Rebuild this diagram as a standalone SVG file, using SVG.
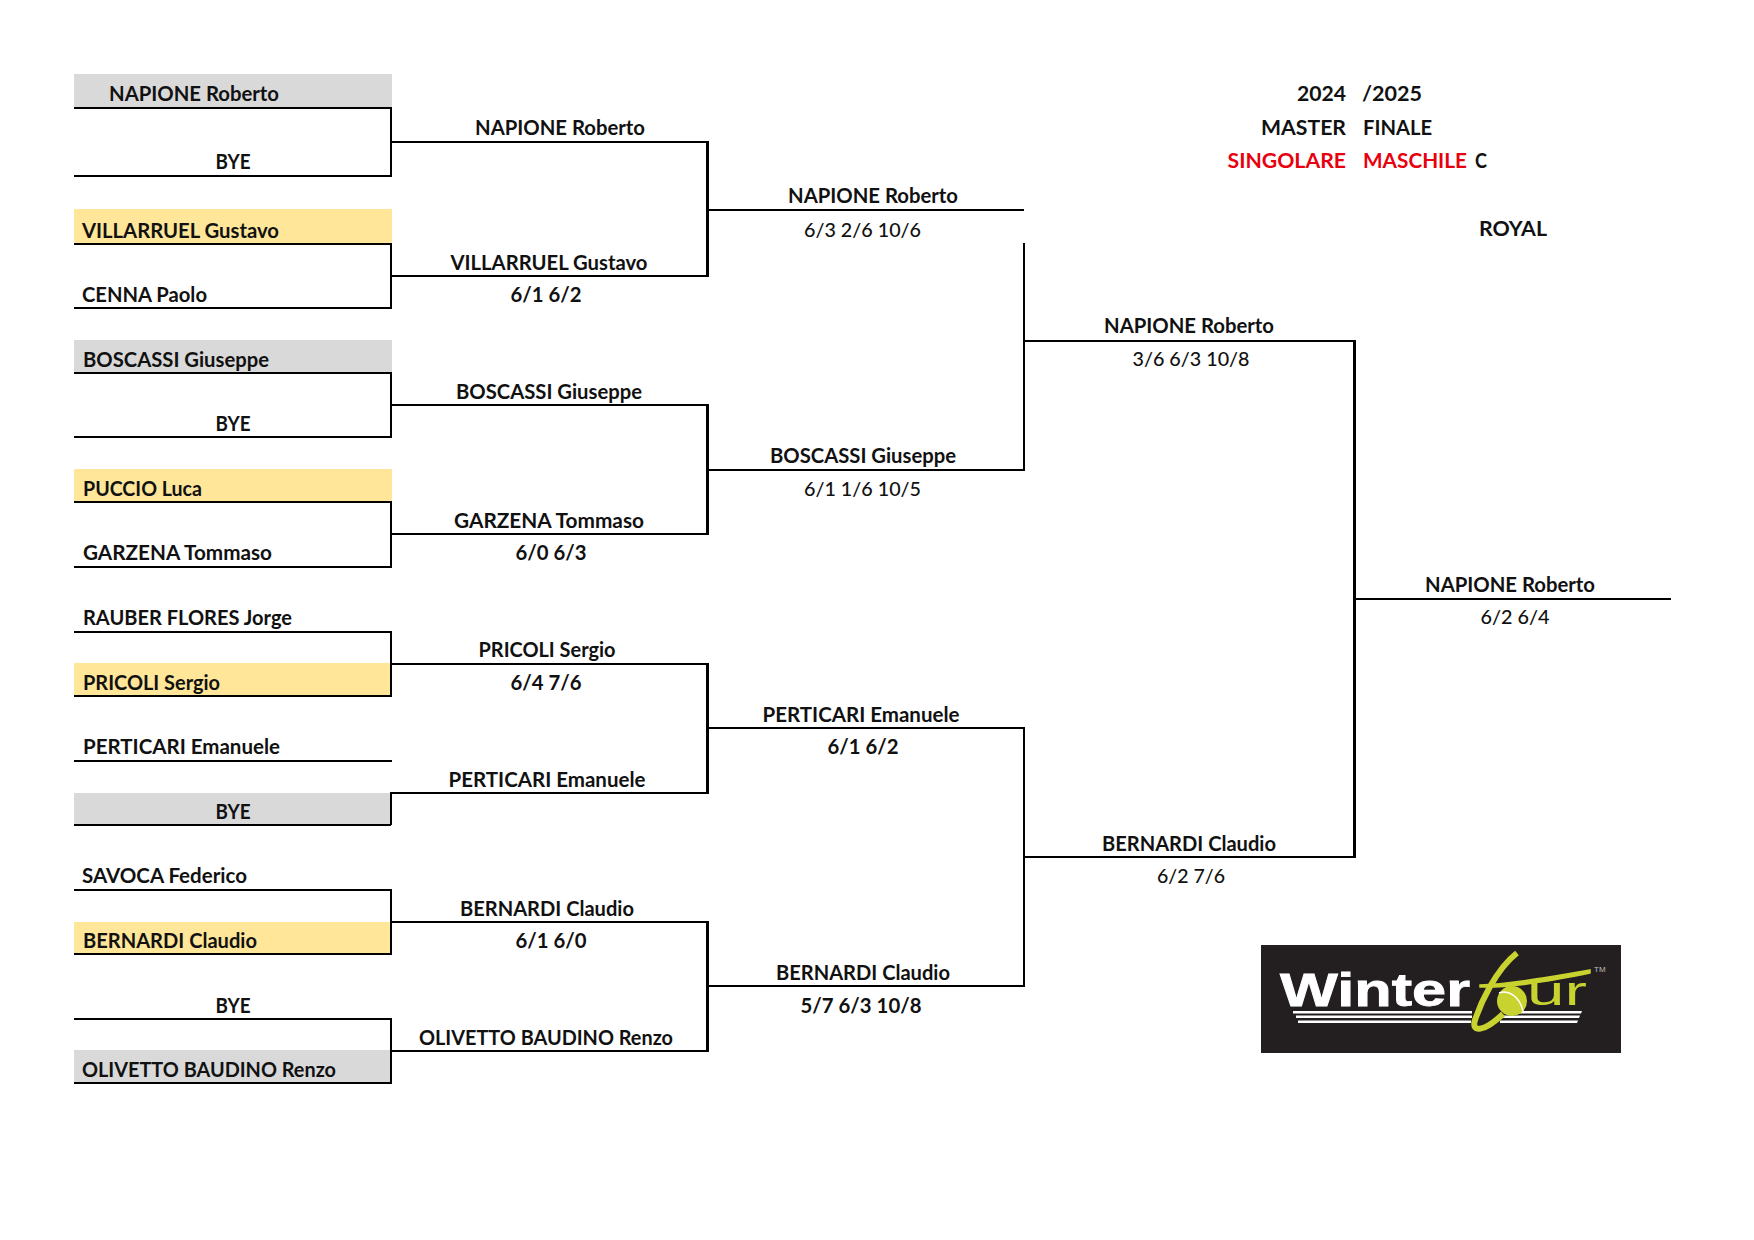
<svg xmlns="http://www.w3.org/2000/svg" width="1754" height="1240" viewBox="0 0 1754 1240">
<style>
text{font-family:Lato,"Liberation Sans",sans-serif;font-size:20px;font-weight:700;fill:#111}
.s{font-weight:500}.m{text-anchor:middle}.h{font-size:21.500px}.r{fill:#e8000f}
.g{fill:#d9d9d9}.y{fill:#ffe699}
#connectors path{fill:none;stroke:#000;stroke-width:2}
#connectors path.t{stroke-width:3}
.l{font-family:"Liberation Sans",sans-serif}
</style>
<rect width="1754" height="1240" fill="#fff"/>
<g id="fills">
<rect class="g" x="74" y="74" width="318" height="33"/>
<rect class="y" x="74" y="209" width="318" height="34"/>
<rect class="g" x="74" y="340" width="318" height="32"/>
<rect class="y" x="74" y="469" width="318" height="33"/>
<rect class="y" x="74" y="663" width="318" height="33"/>
<rect class="g" x="74" y="793" width="318" height="32"/>
<rect class="y" x="74" y="922" width="318" height="32"/>
<rect class="g" x="74" y="1050" width="318" height="33"/>
</g>
<g id="connectors">
<path d="M74 108H391V176H74M391 142H708"/>
<path d="M74 244H391V308H74M391 276H708"/>
<path d="M74 373H391V437H74M391 405H708"/>
<path d="M74 502H391V567H74M391 534H708"/>
<path d="M74 632H391V696H74M391 664H708"/>
<path d="M74 761H392M391 825H74M391 825V793H708"/>
<path d="M74 890H391V954H74M391 922H708"/>
<path d="M74 1019H391V1083H74M391 1051H708"/>
<path class="t" d="M707.500 141V277M707.500 404V535M707.500 663V794M707.500 921V1052"/>
<path d="M708 210H1024M708 470H1024M708 728H1024M708 986H1024"/>
<path d="M1024 243V471M1024 341H1354"/>
<path d="M1024 727V987M1024 857H1354"/>
<path class="t" d="M1354.500 340V858"/>
<path d="M1354 599H1671"/>
</g>
<g id="r1">
<text x="109" y="101" textLength="170" lengthAdjust="spacingAndGlyphs">NAPIONE Roberto</text><text x="233" y="169" class="m" textLength="35" lengthAdjust="spacingAndGlyphs">BYE</text>
<text x="82" y="238" textLength="197" lengthAdjust="spacingAndGlyphs">VILLARRUEL Gustavo</text><text x="82" y="302" textLength="125" lengthAdjust="spacingAndGlyphs">CENNA Paolo</text>
<text x="83" y="367" textLength="186" lengthAdjust="spacingAndGlyphs">BOSCASSI Giuseppe</text><text x="233" y="431" class="m" textLength="35" lengthAdjust="spacingAndGlyphs">BYE</text>
<text x="83" y="496" textLength="119" lengthAdjust="spacingAndGlyphs">PUCCIO Luca</text><text x="83" y="560" textLength="189" lengthAdjust="spacingAndGlyphs">GARZENA Tommaso</text>
<text x="83" y="625" textLength="209" lengthAdjust="spacingAndGlyphs">RAUBER FLORES Jorge</text><text x="83" y="690" textLength="137" lengthAdjust="spacingAndGlyphs">PRICOLI Sergio</text>
<text x="83" y="754" textLength="197" lengthAdjust="spacingAndGlyphs">PERTICARI Emanuele</text><text x="233" y="819" class="m" textLength="35" lengthAdjust="spacingAndGlyphs">BYE</text>
<text x="82" y="883" textLength="165" lengthAdjust="spacingAndGlyphs">SAVOCA Federico</text><text x="83" y="948" textLength="174" lengthAdjust="spacingAndGlyphs">BERNARDI Claudio</text>
<text x="233" y="1013" class="m" textLength="35" lengthAdjust="spacingAndGlyphs">BYE</text><text x="82" y="1077" textLength="254" lengthAdjust="spacingAndGlyphs">OLIVETTO BAUDINO Renzo</text>
</g>
<g id="r2">
<text x="560" y="135" class="m" textLength="170" lengthAdjust="spacingAndGlyphs">NAPIONE Roberto</text>
<text x="549" y="270" class="m" textLength="197" lengthAdjust="spacingAndGlyphs">VILLARRUEL Gustavo</text><text x="546" y="302" class="m" textLength="71" lengthAdjust="spacingAndGlyphs">6/1 6/2</text>
<text x="549" y="399" class="m" textLength="186" lengthAdjust="spacingAndGlyphs">BOSCASSI Giuseppe</text>
<text x="549" y="528" class="m" textLength="190" lengthAdjust="spacingAndGlyphs">GARZENA Tommaso</text><text x="551" y="560" class="m" textLength="71" lengthAdjust="spacingAndGlyphs">6/0 6/3</text>
<text x="547" y="657" class="m" textLength="137" lengthAdjust="spacingAndGlyphs">PRICOLI Sergio</text><text x="546" y="690" class="m" textLength="71" lengthAdjust="spacingAndGlyphs">6/4 7/6</text>
<text x="547" y="787" class="m" textLength="197" lengthAdjust="spacingAndGlyphs">PERTICARI Emanuele</text>
<text x="547" y="916" class="m" textLength="174" lengthAdjust="spacingAndGlyphs">BERNARDI Claudio</text><text x="551" y="948" class="m" textLength="71" lengthAdjust="spacingAndGlyphs">6/1 6/0</text>
<text x="546" y="1045" class="m" textLength="254" lengthAdjust="spacingAndGlyphs">OLIVETTO BAUDINO Renzo</text>
</g>
<g id="r3">
<text x="873" y="203" class="m" textLength="170" lengthAdjust="spacingAndGlyphs">NAPIONE Roberto</text><text x="862.500" y="237" class="m s" textLength="117" lengthAdjust="spacingAndGlyphs">6/3 2/6 10/6</text>
<text x="863" y="463" class="m" textLength="186" lengthAdjust="spacingAndGlyphs">BOSCASSI Giuseppe</text><text x="862.500" y="496" class="m s" textLength="117" lengthAdjust="spacingAndGlyphs">6/1 1/6 10/5</text>
<text x="861" y="722" class="m" textLength="197" lengthAdjust="spacingAndGlyphs">PERTICARI Emanuele</text><text x="863" y="754" class="m" textLength="71" lengthAdjust="spacingAndGlyphs">6/1 6/2</text>
<text x="863" y="980" class="m" textLength="174" lengthAdjust="spacingAndGlyphs">BERNARDI Claudio</text><text x="861" y="1013" class="m" textLength="121" lengthAdjust="spacingAndGlyphs">5/7 6/3 10/8</text>
</g>
<g id="r4">
<text x="1189" y="333" class="m" textLength="170" lengthAdjust="spacingAndGlyphs">NAPIONE Roberto</text><text x="1191" y="366" class="m s" textLength="117" lengthAdjust="spacingAndGlyphs">3/6 6/3 10/8</text>
<text x="1189" y="851" class="m" textLength="174" lengthAdjust="spacingAndGlyphs">BERNARDI Claudio</text><text x="1191" y="883" class="m s" textLength="68" lengthAdjust="spacingAndGlyphs">6/2 7/6</text>
</g>
<g id="r5">
<text x="1510" y="592" class="m" textLength="170" lengthAdjust="spacingAndGlyphs">NAPIONE Roberto</text><text x="1515" y="624" class="m s" textLength="69" lengthAdjust="spacingAndGlyphs">6/2 6/4</text>
</g>
<g id="title">
<text x="1297" y="101" class="h" textLength="49" lengthAdjust="spacingAndGlyphs">2024</text><text x="1362" y="101" class="h" textLength="60" lengthAdjust="spacingAndGlyphs">/2025</text>
<text x="1261" y="134.500" class="h" textLength="85" lengthAdjust="spacingAndGlyphs">MASTER</text><text x="1363" y="134.500" class="h" textLength="69" lengthAdjust="spacingAndGlyphs">FINALE</text>
<text x="1227.500" y="168" class="h r" textLength="118.500" lengthAdjust="spacingAndGlyphs">SINGOLARE</text><text x="1363" y="168" class="h r" textLength="104" lengthAdjust="spacingAndGlyphs">MASCHILE</text><text x="1475" y="168" class="h" textLength="12" lengthAdjust="spacingAndGlyphs">C</text>
<text x="1479" y="236" class="h" textLength="68" lengthAdjust="spacingAndGlyphs">ROYAL</text>
</g>
<g id="logo">
<rect x="1261" y="945" width="360" height="108" fill="#231f20"/>
<g fill="#fff"><path d="M1293 1011H1472V1013.500H1293ZM1296 1015.500H1472V1018H1296ZM1298 1020.500H1471V1023H1298ZM1504 1011H1582L1581 1013.500H1504ZM1502 1015.500H1580L1579 1018H1502ZM1500 1020.500H1578L1577 1023H1500Z"/></g>
<text class="l" x="1280" y="1006" textLength="190" lengthAdjust="spacingAndGlyphs" style="font-size:46px;font-weight:700;fill:#fff;stroke:#fff;stroke-width:.8">Winter</text>
<path d="M1517 953C1495 970 1480 1005 1475 1020C1471 1033 1484 1032 1503 1014" fill="none" stroke="#c9d32f" stroke-width="6"/>
<path d="M1480 985C1515 984 1560 975 1590 970L1590 973C1560 979 1515 988 1480 987Z" fill="#c9d32f" stroke="#c9d32f" stroke-width="1.500"/>
<circle cx="1512" cy="1001" r="15" fill="#c9d32f"/>
<path d="M1499 993C1508 990 1519 995 1523 1011" fill="none" stroke="#fff" stroke-width="1.500"/>
<text class="l" x="1527" y="1005" textLength="60" lengthAdjust="spacingAndGlyphs" style="font-size:40px;font-weight:400;fill:#c9d32f">ur</text>
<text class="l" x="1594" y="972" style="font-size:8px;font-weight:400;fill:#bbb">TM</text>
</g>
</svg>
